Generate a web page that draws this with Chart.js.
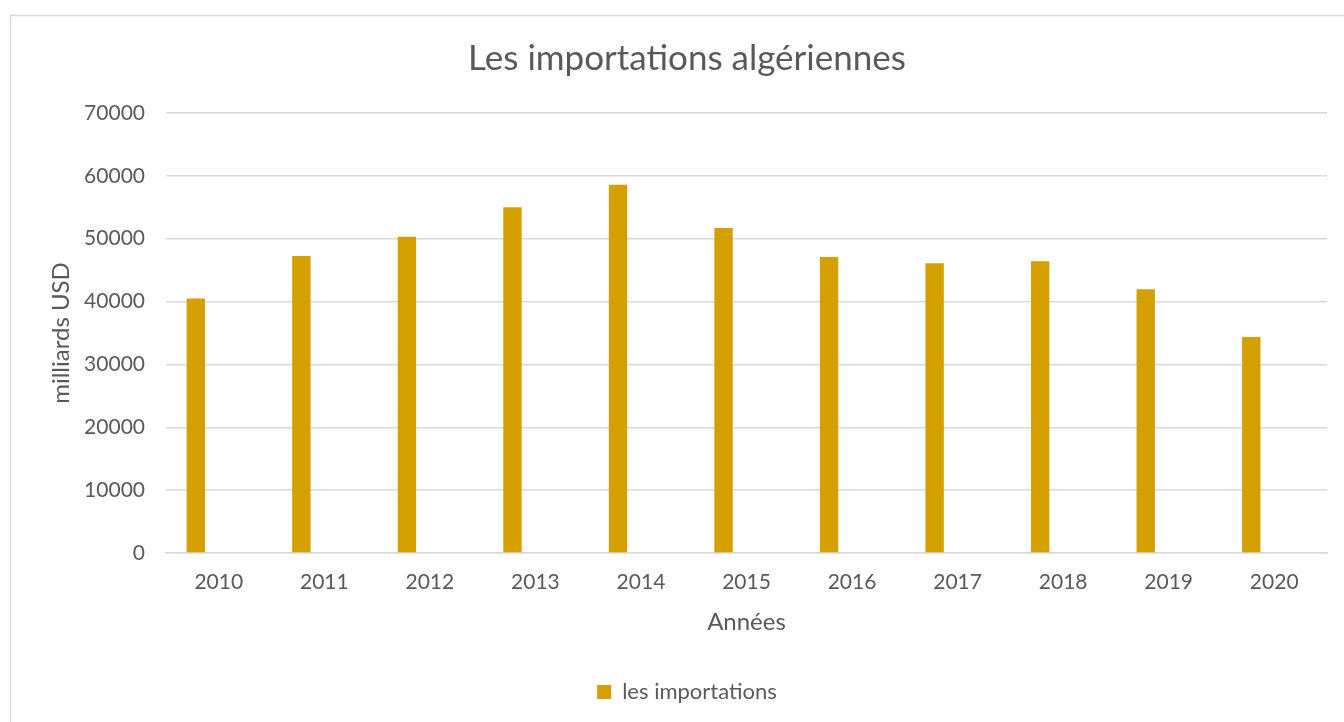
<!DOCTYPE html>
<html><head><meta charset="utf-8">
<script src="https://cdn.jsdelivr.net/npm/chart.js@4/dist/chart.umd.min.js"></script>
<style>html,body{margin:0;padding:0;background:#fff;}#wrap{width:1344px;height:722px;position:relative;}</style>
</head><body><div id="wrap"><canvas id="c" width="1344" height="722"></canvas></div>
<script>
const categories = ['2010','2011','2012','2013','2014','2015','2016','2017','2018','2019','2020'];
const importations = [40500, 47250, 50320, 55000, 58600, 51700, 47100, 46100, 46400, 41950, 34360];
const emptySeries = [null, null, null, null, null, null, null, null, null, null, null];
const yTicks = [0, 10000, 20000, 30000, 40000, 50000, 60000, 70000];

const FONT = 'Lato, "Open Sans", sans-serif';
const GREY = '#595959';

const borderPlugin = {
  id: 'outerBorder',
  beforeDraw(chart) {
    const ctx = chart.ctx;
    ctx.save();
    ctx.fillStyle = '#fff';
    ctx.fillRect(0, 0, chart.width, chart.height);
    ctx.strokeStyle = '#d9d9d9';
    ctx.lineWidth = 1.5;
    ctx.strokeRect(10.5, 15.5, 1340, 720);
    ctx.restore();
  }
};

new Chart(document.getElementById('c'), {
  type: 'bar',
  data: {
    labels: categories,
    datasets: [
      { label: 'les importations', data: importations, backgroundColor: '#D4A000', borderWidth: 0, categoryPercentage: 0.87, barPercentage: 0.4 },
      { label: '', data: emptySeries, backgroundColor: 'rgba(0,0,0,0)', categoryPercentage: 0.87, barPercentage: 0.4 }
    ]
  },
  plugins: [borderPlugin],
  options: {
    responsive: false,
    animation: false,
    devicePixelRatio: 1,
    layout: { padding: { left: 47, right: 17, top: 38, bottom: 9 } },
    plugins: {
      title: { display: true, text: 'Les importations algériennes', color: GREY, font: { family: FONT, size: 35, weight: 'normal' }, padding: { top: 0, bottom: 33 } },
      legend: { position: 'bottom', labels: { filter: (item) => item.datasetIndex === 0, color: GREY, font: { family: FONT, size: 22 }, boxWidth: 14, boxHeight: 14, padding: 10 } },
      tooltip: { enabled: false }
    },
    scales: {
      x: {
        grid: { display: false, drawTicks: false },
        border: { color: '#d9d9d9', width: 1.5 },
        ticks: { color: GREY, font: { family: FONT, size: 21 }, padding: 17, maxRotation: 0 },
        title: { display: true, text: 'Années', color: GREY, font: { family: FONT, size: 24 }, padding: { top: -4, bottom: 34 } }
      },
      y: {
        min: 0, max: 70000,
        afterBuildTicks: (axis) => { axis.ticks = yTicks.map(v => ({ value: v })); },
        afterFit: (axis) => { axis.width = 119; },
        grid: { color: '#d9d9d9', lineWidth: 1.5, drawTicks: false },
        border: { display: false },
        ticks: { color: GREY, font: { family: FONT, size: 21 }, padding: 21, callback: (v) => String(v) },
        title: { display: true, text: 'milliards USD', color: GREY, font: { family: FONT, size: 24 }, padding: { top: 0, bottom: 8 } }
      }
    }
  }
});
</script></body></html>
